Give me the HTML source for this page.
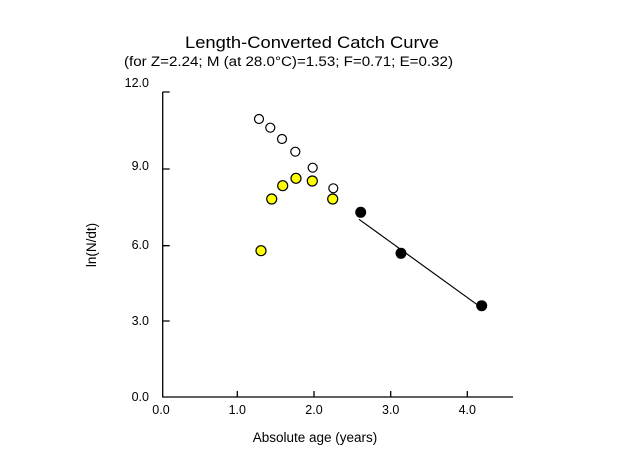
<!DOCTYPE html>
<html><head><style>body{margin:0;background:#fff}svg{display:block}</style></head><body>
<svg width="624" height="457" xmlns="http://www.w3.org/2000/svg" font-family="Liberation Sans, Arial, sans-serif">
<rect width="624" height="457" fill="#fff"/>
<text x="185" y="48" font-size="17" textLength="254" lengthAdjust="spacingAndGlyphs">Length-Converted Catch Curve</text>
<text x="124" y="66" font-size="13.5" textLength="329" lengthAdjust="spacingAndGlyphs">(for Z=2.24; M (at 28.0°C)=1.53; F=0.71; E=0.32)</text>
<g stroke="#000" stroke-width="1.3" fill="none">
<path d="M162.7,92 V397 H513"/>
<path d="M162.7,92 h7 M162.7,169 h7 M162.7,245.7 h7 M162.7,321 h7"/>
<path d="M237.3,397 v-6 M314,397 v-6 M390.7,397 v-6 M467.3,397 v-6"/>
<path d="M359,219.3 L480,306.7" stroke-width="1.2"/>
</g>
<g font-size="12.5" text-anchor="end">
<text x="149" y="87">12.0</text><text x="149" y="170">9.0</text><text x="149" y="249">6.0</text><text x="149" y="325">3.0</text><text x="149" y="401">0.0</text>
</g>
<g font-size="12.5" text-anchor="middle">
<text x="161" y="414">0.0</text><text x="237.3" y="414">1.0</text><text x="314" y="414">2.0</text><text x="390.7" y="414">3.0</text><text x="467.3" y="414">4.0</text>
</g>
<text x="315" y="442" font-size="13.5" text-anchor="middle">Absolute age (years)</text>
<text transform="translate(96,245) rotate(-90)" font-size="13.5" text-anchor="middle">ln(N/dt)</text>
<g stroke="#000" stroke-width="1.2" fill="#fff">
<circle cx="259" cy="119" r="4.5"/><circle cx="270.3" cy="127.7" r="4.5"/><circle cx="282" cy="139" r="4.5"/><circle cx="295.3" cy="151.7" r="4.5"/><circle cx="312.7" cy="167.7" r="4.5"/><circle cx="333.3" cy="188.3" r="4.5"/>
</g>
<g stroke="#000" stroke-width="1.2" fill="#ffff00">
<circle cx="261" cy="250.7" r="5"/><circle cx="271.7" cy="199" r="5"/><circle cx="282.7" cy="185.7" r="5"/><circle cx="296" cy="178.3" r="5"/><circle cx="312.3" cy="181" r="5"/><circle cx="332.7" cy="199" r="5"/>
</g>
<g fill="#000">
<circle cx="360.7" cy="212.3" r="5.5"/><circle cx="401" cy="253.3" r="5.5"/><circle cx="481.7" cy="305.7" r="5.5"/>
</g>
</svg>
</body></html>
